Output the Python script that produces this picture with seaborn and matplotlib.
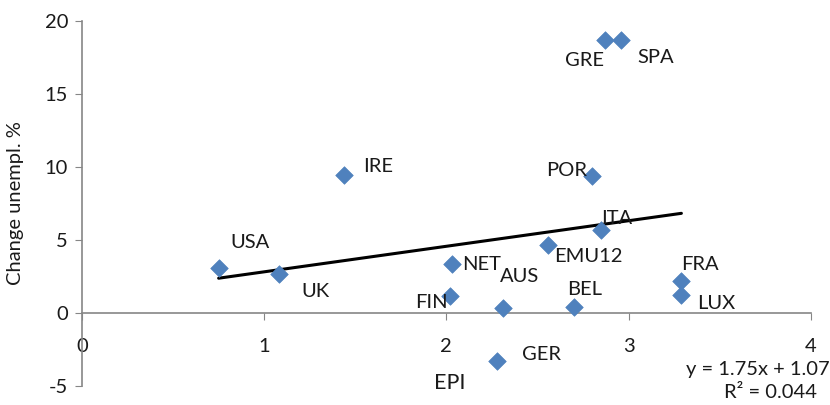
import matplotlib
matplotlib.use("Agg")
import matplotlib.pyplot as plt
import numpy as np
import pandas as pd
import seaborn as sns

# Countries, EPI score and change in unemployment (%)
countries = ["USA", "UK", "IRE", "FIN", "NET", "AUS", "GER", "BEL",
             "EMU12", "ITA", "POR", "GRE", "SPA", "FRA", "LUX"]
epi = [0.75, 1.08, 1.44, 2.02, 2.03, 2.31, 2.28, 2.70,
       2.56, 2.85, 2.80, 2.87, 2.96, 3.29, 3.29]
unemp_change = [3.1, 2.7, 9.45, 1.15, 3.35, 0.35, -3.3, 0.4,
                4.65, 5.7, 9.4, 18.7, 18.7, 2.2, 1.25]

# Linear trend as reported
slope, intercept, r2 = 1.75, 1.07, 0.044

# Label placement offsets (pixels) relative to each marker
label_offsets = {
    "USA": (31, 25), "UK": (37, -18), "IRE": (34, 9), "FIN": (-19, -6),
    "NET": (30, 0), "AUS": (17, 31), "GER": (44, 7), "BEL": (11, 18),
    "EMU12": (40, -11), "ITA": (15, 11), "POR": (-25, 5), "GRE": (-20, -20),
    "SPA": (34, -17), "FRA": (19, 16), "LUX": (35, -9),
}

df = pd.DataFrame({"country": countries, "epi": epi, "change": unemp_change})

sns.set_style("white")
plt.rcParams["font.family"] = ["Lato", "DejaVu Sans"]
plt.rcParams["axes.unicode_minus"] = False

fig = plt.figure(figsize=(8.3, 4.05), dpi=100)
ax = fig.add_axes([0.0988, 0.047, 0.878, 0.901])

sns.scatterplot(data=df, x="epi", y="change", marker="D", s=80,
                color="#4F81BD", edgecolor="#4F81BD", linewidth=0.5,
                ax=ax, zorder=3)

# Trend line over the data range
xs = np.array([min(epi), max(epi)])
sns.lineplot(x=xs, y=slope * xs + intercept, color="black", linewidth=2.2,
             ax=ax, zorder=2)

fs = 14.5
for name, x, y in zip(countries, epi, unemp_change):
    dx, dy = label_offsets[name]
    ax.annotate(name, (x, y), xytext=(dx, dy), textcoords="offset pixels",
                ha="center", va="center", fontsize=fs, color="#1a1a1a")

ax.set_xlim(0, 4)
ax.set_ylim(-5, 20)
ax.set_xticks([0, 1, 2, 3, 4])
ax.set_yticks([-5, 0, 5, 10, 15, 20])

# Axes crossing at the origin
ax.spines["left"].set_position(("data", 0))
ax.spines["bottom"].set_position(("data", 0))
ax.spines["top"].set_visible(False)
ax.spines["right"].set_visible(False)
for sp in ("left", "bottom"):
    ax.spines[sp].set_color("#868686")
    ax.spines[sp].set_linewidth(1.2)

ax.tick_params(axis="x", direction="out", length=5, color="#868686",
               labelsize=fs, pad=13, labelcolor="#1a1a1a", bottom=True)
ax.tick_params(axis="y", direction="out", length=5, color="#868686",
               labelsize=fs, pad=5, labelcolor="#1a1a1a", left=True)

ax.set_xlabel("")
ax.set_ylabel("Change unempl. %", fontsize=fs, color="#1a1a1a")
ax.yaxis.set_label_coords(-0.079, 0.5)

fig.text(450 / 830, 1 - 383 / 405, "EPI", ha="center", va="center",
         fontsize=15.5, color="#1a1a1a")
fig.text(758 / 830, 1 - 370 / 405, f"y = {slope}x + {intercept}",
         ha="center", va="center", fontsize=fs, color="#1a1a1a")
fig.text(770 / 830, 1 - 393 / 405, f"R² = {r2}",
         ha="center", va="center", fontsize=fs, color="#1a1a1a")

fig.savefig("out.png", dpi=100)
